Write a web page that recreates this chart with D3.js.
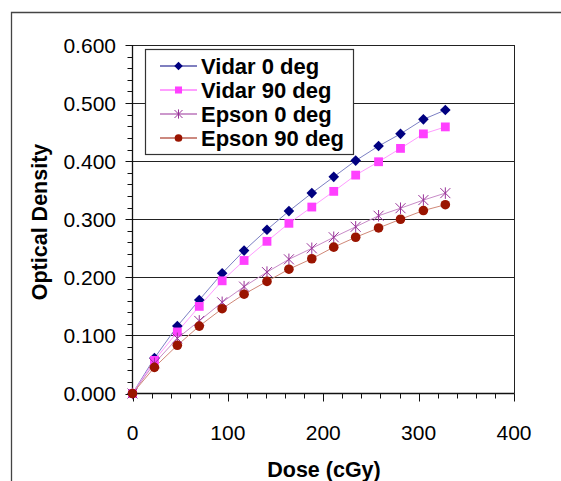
<!DOCTYPE html>
<html><head><meta charset="utf-8">
<script src="https://cdn.jsdelivr.net/npm/d3@7"></script>
<style>body{margin:0;background:#fff}svg{display:block}</style>
</head><body>
<script>
const dose = [0, 23, 47, 70, 94, 117, 141, 164, 188, 211, 234, 258, 281, 305, 328];
const vidar0 = [0, 0.061, 0.116, 0.161, 0.207, 0.246, 0.282, 0.314, 0.345, 0.373, 0.401, 0.426, 0.447, 0.472, 0.488];
const vidar90 = [0, 0.057, 0.106, 0.150, 0.194, 0.229, 0.262, 0.293, 0.321, 0.348, 0.376, 0.399, 0.422, 0.447, 0.459];
const epson0 = [0, 0.052, 0.095, 0.125, 0.157, 0.184, 0.209, 0.231, 0.250, 0.269, 0.287, 0.306, 0.319, 0.333, 0.345];
const epson90 = [0, 0.045, 0.083, 0.116, 0.146, 0.171, 0.193, 0.214, 0.232, 0.252, 0.269, 0.285, 0.300, 0.315, 0.325];
const seriesNames = ["Vidar 0 deg", "Vidar 90 deg", "Epson 0 deg", "Epson 90 deg"];
const xTicks = [0, 100, 200, 300, 400];
const yTicks = [0, 0.1, 0.2, 0.3, 0.4, 0.5, 0.6];
const xTitle = "Dose (cGy)";
const yTitle = "Optical Density";

const W = 561, H = 481;
const svg = d3.select("body").append("svg").attr("width", W).attr("height", H);
const font = "Arial, 'Liberation Sans', sans-serif";

const x = d3.scaleLinear().domain([0, 400]).range([132.5, 514]);
const y = d3.scaleLinear().domain([0, 0.6]).range([393.5, 45]);

// outer frame
svg.append("path").attr("d", `M11.5,${H}V12.5H${W}`).attr("fill", "none").attr("stroke", "#444").attr("stroke-width", 1.3);

// gridlines
svg.append("g").selectAll("line").data(yTicks.filter(d => d > 0)).join("line")
  .attr("x1", x(0)).attr("x2", x(400)).attr("y1", d => Math.round(y(d)) + 0.5).attr("y2", d => Math.round(y(d)) + 0.5)
  .attr("stroke", "#222").attr("stroke-width", 1);
// right border
svg.append("line").attr("x1", x(400) + 0.5).attr("x2", x(400) + 0.5).attr("y1", y(0.6)).attr("y2", y(0))
  .attr("stroke", "#222");

// Y axis
const yMinor = d3.range(0, 0.6001, 0.02);
const yAx = svg.append("g").attr("transform", `translate(${x(0)},0)`);
yAx.append("line").attr("x1", 0).attr("x2", 0).attr("y1", y(0.6)).attr("y2", y(0)).attr("stroke", "#111").attr("stroke-width", 1.3);
yAx.selectAll(".mn").data(yMinor).join("line")
  .attr("x1", -5).attr("x2", 0).attr("y1", d => Math.round(y(d)) + 0.5).attr("y2", d => Math.round(y(d)) + 0.5).attr("stroke", "#111");
yAx.selectAll(".mj").data(yTicks).join("line")
  .attr("x1", -7).attr("x2", 0).attr("y1", d => Math.round(y(d)) + 0.5).attr("y2", d => Math.round(y(d)) + 0.5).attr("stroke", "#111");
yAx.selectAll("text").data(yTicks).join("text")
  .attr("x", -16.5).attr("y", d => y(d) + 7.5).attr("text-anchor", "end")
  .attr("font-family", font).attr("font-size", 21).text(d3.format(".3f"));

// X axis
const xMinor = d3.range(0, 401, 20);
const xAx = svg.append("g");
xAx.append("line").attr("x1", x(0)).attr("x2", x(400)).attr("y1", y(0)).attr("y2", y(0)).attr("stroke", "#111").attr("stroke-width", 1.3);
xAx.selectAll(".mn").data(xMinor).join("line")
  .attr("x1", d => Math.round(x(d)) + 0.5).attr("x2", d => Math.round(x(d)) + 0.5).attr("y1", y(0)).attr("y2", y(0) + 5).attr("stroke", "#111");
xAx.selectAll(".mj").data(xTicks).join("line")
  .attr("x1", d => Math.round(x(d)) + 0.5).attr("x2", d => Math.round(x(d)) + 0.5).attr("y1", y(0)).attr("y2", y(0) + 8).attr("stroke", "#111");
xAx.selectAll("text").data(xTicks).join("text")
  .attr("x", d => x(d)).attr("y", 439.5).attr("text-anchor", "middle")
  .attr("font-family", font).attr("font-size", 21).text(d => d);

// titles
svg.append("text").attr("x", 324).attr("y", 476.5).attr("text-anchor", "middle")
  .attr("font-family", font).attr("font-size", 21.5).attr("font-weight", "bold").text(xTitle);
svg.append("text").attr("transform", "translate(47,222) rotate(-90)").attr("text-anchor", "middle")
  .attr("font-family", font).attr("font-size", 21.5).attr("font-weight", "bold").text(yTitle);

// series
const series = [
  {name: seriesNames[0], vals: vidar0, color: "#000080", line: "#7c80c4", sym: "diamond"},
  {name: seriesNames[1], vals: vidar90, color: "#ff40ff", line: "#ff9cff", sym: "square"},
  {name: seriesNames[2], vals: epson0, color: "#993399", line: "#c88cc8", sym: "star"},
  {name: seriesNames[3], vals: epson90, color: "#9a1400", line: "#d08878", sym: "circle"}
];

function marker(g, s, cx, cy, scale) {
  const k = scale || 1;
  if (s.sym === "diamond") {
    const r = 5.3 * k;
    g.append("path").attr("d", `M${cx},${cy - r}L${cx + r},${cy}L${cx},${cy + r}L${cx - r},${cy}Z`).attr("fill", s.color);
  } else if (s.sym === "square") {
    const r = 4.4 * k;
    g.append("rect").attr("x", cx - r).attr("y", cy - r).attr("width", 2 * r).attr("height", 2 * r).attr("fill", s.color);
  } else if (s.sym === "circle") {
    g.append("circle").attr("cx", cx).attr("cy", cy).attr("r", 4.8 * k).attr("fill", s.color);
  } else {
    const r = 5 * k;
    const p = `M${cx - r},${cy - r}L${cx + r},${cy + r}M${cx - r},${cy + r}L${cx + r},${cy - r}M${cx},${cy - r * 1.15}V${cy + r * 1.15}`;
    g.append("path").attr("d", p).attr("stroke", s.color).attr("stroke-width", 1).attr("fill", "none");
  }
}

const line = d3.line().x((d, i) => x(dose[i])).y(d => y(d));
const plot = svg.append("g");
series.forEach(s => {
  plot.append("path").attr("d", line(s.vals)).attr("fill", "none").attr("stroke", s.line).attr("stroke-width", 1);
});
series.forEach(s => {
  const g = plot.append("g");
  s.vals.forEach((v, i) => marker(g, s, x(dose[i]), y(v)));
});

// legend
const lg = svg.append("g");
lg.append("rect").attr("x", 145.5).attr("y", 49.5).attr("width", 208).attr("height", 105)
  .attr("fill", "#fff").attr("stroke", "#333").attr("stroke-width", 1.2);
series.forEach((s, i) => {
  const cy = 66 + i * 24;
  lg.append("line").attr("x1", 160).attr("x2", 197).attr("y1", cy).attr("y2", cy).attr("stroke", s.color).attr("stroke-width", 1.2);
  marker(lg, s, 178.5, cy, 0.8);
  lg.append("text").attr("x", 201).attr("y", cy + 8).attr("font-family", font).attr("font-size", 22)
    .attr("font-weight", "bold").text(s.name);
});
</script>
</body></html>
